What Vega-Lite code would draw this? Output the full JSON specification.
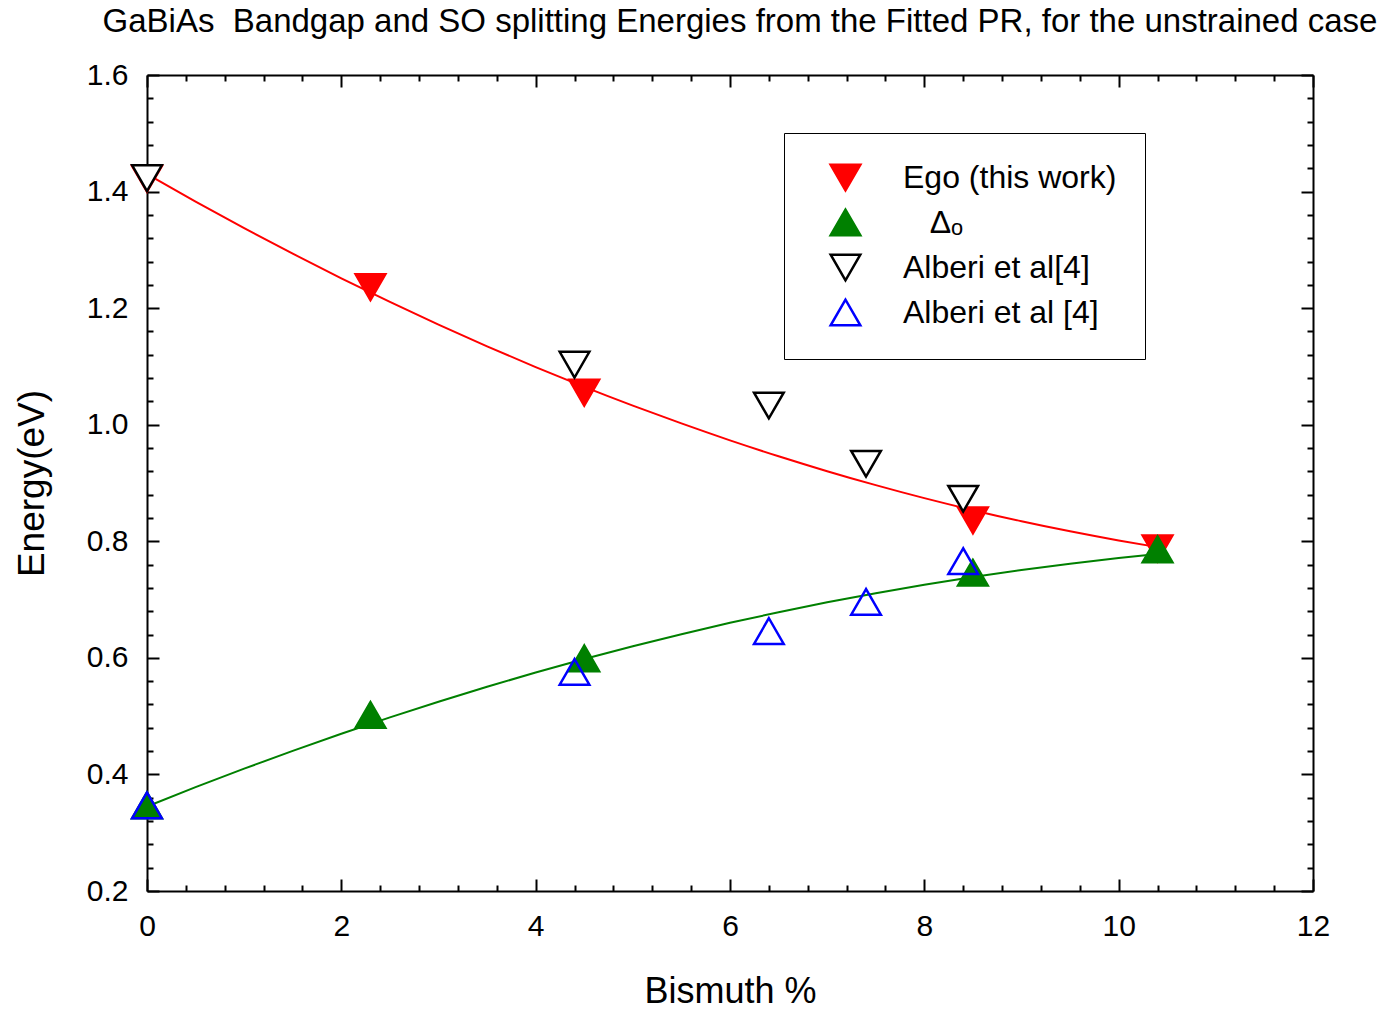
{
  "$schema": "https://vega.github.io/schema/vega-lite/v6.json",
  "width": 1166,
  "height": 816,
  "autosize": {"type": "none"},
  "padding": {"left": 147, "top": 75, "right": 70, "bottom": 119},
  "background": "white",
  "config": {
    "view": {"stroke": null},
    "font": "Liberation Sans",
    "axis": {"domainColor": "black", "domainWidth": 2, "tickColor": "black", "tickWidth": 2, "grid": false, "labelColor": "black", "titleColor": "black", "labelFontWeight": "normal", "titleFontWeight": "normal"}
  },
  "title": {
    "text": "GaBiAs\u00a0 Bandgap and SO splitting Energies from the Fitted PR, for the unstrained case",
    "fontSize": 33,
    "fontWeight": "normal",
    "font": "Liberation Sans",
    "color": "black",
    "anchor": "middle",
    "baseline": "alphabetic",
    "dx": 10,
    "offset": -5
  },
  "datasets": {
    "curves": [
      {"x": 0, "energy": 1.43, "curve": "gap"},
      {"x": 0.5, "energy": 1.3828, "curve": "gap"},
      {"x": 1, "energy": 1.3373, "curve": "gap"},
      {"x": 1.5, "energy": 1.2934, "curve": "gap"},
      {"x": 2, "energy": 1.2512, "curve": "gap"},
      {"x": 2.5, "energy": 1.2106, "curve": "gap"},
      {"x": 3, "energy": 1.1717, "curve": "gap"},
      {"x": 3.5, "energy": 1.1345, "curve": "gap"},
      {"x": 4, "energy": 1.0989, "curve": "gap"},
      {"x": 4.5, "energy": 1.065, "curve": "gap"},
      {"x": 5, "energy": 1.0328, "curve": "gap"},
      {"x": 5.5, "energy": 1.0022, "curve": "gap"},
      {"x": 6, "energy": 0.9732, "curve": "gap"},
      {"x": 6.5, "energy": 0.9459, "curve": "gap"},
      {"x": 7, "energy": 0.9203, "curve": "gap"},
      {"x": 7.5, "energy": 0.8963, "curve": "gap"},
      {"x": 8, "energy": 0.874, "curve": "gap"},
      {"x": 8.5, "energy": 0.8534, "curve": "gap"},
      {"x": 9, "energy": 0.8344, "curve": "gap"},
      {"x": 9.5, "energy": 0.8171, "curve": "gap"},
      {"x": 10, "energy": 0.8014, "curve": "gap"},
      {"x": 10.4, "energy": 0.79, "curve": "gap"},
      {"x": 0, "energy": 0.345, "curve": "so"},
      {"x": 0.5, "energy": 0.3781, "curve": "so"},
      {"x": 1, "energy": 0.4099, "curve": "so"},
      {"x": 1.5, "energy": 0.4405, "curve": "so"},
      {"x": 2, "energy": 0.4698, "curve": "so"},
      {"x": 2.5, "energy": 0.4979, "curve": "so"},
      {"x": 3, "energy": 0.5248, "curve": "so"},
      {"x": 3.5, "energy": 0.5504, "curve": "so"},
      {"x": 4, "energy": 0.5748, "curve": "so"},
      {"x": 4.5, "energy": 0.598, "curve": "so"},
      {"x": 5, "energy": 0.6199, "curve": "so"},
      {"x": 5.5, "energy": 0.6406, "curve": "so"},
      {"x": 6, "energy": 0.6601, "curve": "so"},
      {"x": 6.5, "energy": 0.6783, "curve": "so"},
      {"x": 7, "energy": 0.6953, "curve": "so"},
      {"x": 7.5, "energy": 0.711, "curve": "so"},
      {"x": 8, "energy": 0.7255, "curve": "so"},
      {"x": 8.5, "energy": 0.7388, "curve": "so"},
      {"x": 9, "energy": 0.7508, "curve": "so"},
      {"x": 9.5, "energy": 0.7616, "curve": "so"},
      {"x": 10, "energy": 0.7712, "curve": "so"},
      {"x": 10.4, "energy": 0.778, "curve": "so"}
    ],
    "points": [
      {"bi": 0, "energy": 1.422, "series": "Ego (this work)"},
      {"bi": 2.3, "energy": 1.236, "series": "Ego (this work)"},
      {"bi": 4.5, "energy": 1.055, "series": "Ego (this work)"},
      {"bi": 8.5, "energy": 0.836, "series": "Ego (this work)"},
      {"bi": 10.4, "energy": 0.788, "series": "Ego (this work)"},
      {"bi": 0, "energy": 0.347, "series": "Δo"},
      {"bi": 2.3, "energy": 0.502, "series": "Δo"},
      {"bi": 4.5, "energy": 0.599, "series": "Δo"},
      {"bi": 8.5, "energy": 0.746, "series": "Δo"},
      {"bi": 10.4, "energy": 0.786, "series": "Δo"},
      {"bi": 0, "energy": 1.423, "series": "Alberi et al[4]"},
      {"bi": 4.4, "energy": 1.103, "series": "Alberi et al[4]"},
      {"bi": 6.4, "energy": 1.033, "series": "Alberi et al[4]"},
      {"bi": 7.4, "energy": 0.933, "series": "Alberi et al[4]"},
      {"bi": 8.4, "energy": 0.873, "series": "Alberi et al[4]"},
      {"bi": 0, "energy": 0.347, "series": "Alberi et al [4]"},
      {"bi": 4.4, "energy": 0.576, "series": "Alberi et al [4]"},
      {"bi": 6.4, "energy": 0.646, "series": "Alberi et al [4]"},
      {"bi": 7.4, "energy": 0.696, "series": "Alberi et al [4]"},
      {"bi": 8.4, "energy": 0.766, "series": "Alberi et al [4]"}
    ]
  },
  "resolve": {"axis": {"x": "independent", "y": "independent"}},
  "layer": [
    {
      "data": {"name": "curves"},
      "mark": {"type": "line", "strokeWidth": 2, "interpolate": "monotone"},
      "encoding": {
        "x": {
          "field": "x", "type": "quantitative",
          "scale": {"domain": [0, 12], "nice": false, "zero": false},
          "axis": {
            "orient": "bottom",
            "title": "Bismuth %",
            "titleFontSize": 36,
            "titleFont": "Liberation Sans",
            "titlePadding": 27,
            "values": [0,0.4,0.8,1.2,1.6,2,2.4,2.8,3.2,3.6,4,4.4,4.8,5.2,5.6,6,6.4,6.8,7.2,7.6,8,8.4,8.8,9.2,9.6,10,10.4,10.8,11.2,11.6,12],
            "format": ".0f",
            "tickSize": {"condition": {"test": "abs(datum.value/2 - round(datum.value/2)) < 0.01", "value": -12}, "value": -6},
            "labelExpr": "abs(datum.value/2 - round(datum.value/2)) < 0.01 ? datum.label : ''",
            "labelFontSize": 30,
            "labelPadding": 32,
            "labelFlush": false,
            "labelOverlap": false
          }
        },
        "y": {
          "field": "energy", "type": "quantitative",
          "scale": {"domain": [0.2, 1.6], "nice": false, "zero": false},
          "axis": {
            "orient": "left",
            "title": "Energy(eV)",
            "titleFontSize": 37,
            "titleFont": "Liberation Sans",
            "titlePadding": 35,
            "values": [0.2,0.24,0.28,0.32,0.36,0.4,0.44,0.48,0.52,0.56,0.6,0.64,0.68,0.72,0.76,0.8,0.84,0.88,0.92,0.96,1.0,1.04,1.08,1.12,1.16,1.2,1.24,1.28,1.32,1.36,1.4,1.44,1.48,1.52,1.56,1.6],
            "format": ".1f",
            "tickSize": {"condition": {"test": "abs(datum.value*5 - round(datum.value*5)) < 0.01", "value": -12}, "value": -6},
            "labelExpr": "abs(datum.value*5 - round(datum.value*5)) < 0.01 ? datum.label : ''",
            "labelFontSize": 30,
            "labelPadding": 31,
            "labelFlush": false,
            "labelOverlap": false
          }
        },
        "color": {
          "field": "curve", "type": "nominal",
          "scale": {"domain": ["gap", "so"], "range": ["#ff0000", "#008000"]},
          "legend": null
        }
      }
    },
    {
      "data": {"name": "points"},
      "mark": {"type": "point", "strokeWidth": 2.5, "opacity": 1, "fillOpacity": 1, "strokeOpacity": 1},
      "encoding": {
        "x": {
          "field": "bi", "type": "quantitative",
          "axis": {
            "orient": "top",
            "title": null,
            "labels": false,
            "values": [0,0.4,0.8,1.2,1.6,2,2.4,2.8,3.2,3.6,4,4.4,4.8,5.2,5.6,6,6.4,6.8,7.2,7.6,8,8.4,8.8,9.2,9.6,10,10.4,10.8,11.2,11.6,12],
            "tickSize": {"condition": {"test": "abs(datum.value/2 - round(datum.value/2)) < 0.01", "value": -12}, "value": -6}
          }
        },
        "y": {
          "field": "energy", "type": "quantitative",
          "axis": {
            "orient": "right",
            "title": null,
            "labels": false,
            "values": [0.2,0.24,0.28,0.32,0.36,0.4,0.44,0.48,0.52,0.56,0.6,0.64,0.68,0.72,0.76,0.8,0.84,0.88,0.92,0.96,1.0,1.04,1.08,1.12,1.16,1.2,1.24,1.28,1.32,1.36,1.4,1.44,1.48,1.52,1.56,1.6],
            "tickSize": {"condition": {"test": "abs(datum.value*5 - round(datum.value*5)) < 0.01", "value": -12}, "value": -6}
          }
        },
        "shape": {
          "field": "series", "type": "nominal",
          "scale": {"domain": ["Ego (this work)", "Δo", "Alberi et al[4]", "Alberi et al [4]"], "range": ["triangle-down", "triangle-up", "triangle-down", "triangle-up"]},
          "legend": {
            "title": null,
            "orient": "none",
            "legendX": 637,
            "legendY": 58,
            "padding": 28,
            "strokeColor": "black",
            "fillColor": "white",
            "labelFontSize": 32,
            "labelFont": "Liberation Sans",
            "labelColor": "black",
            "labelLimit": 500,
            "labelOffset": 41,
            "symbolOffset": 17,
            "rowPadding": 8,
            "symbolStrokeWidth": 2.5,
            "labelExpr": "datum.label == 'Δo' ? '\u200b\u00a0\u00a0\u00a0Δₒ' : datum.label"
          }
        },
        "fill": {
          "field": "series", "type": "nominal",
          "scale": {"domain": ["Ego (this work)", "Δo", "Alberi et al[4]", "Alberi et al [4]"], "range": ["#ff0000", "#008000", "#ffffff", "transparent"]}
        },
        "stroke": {
          "field": "series", "type": "nominal",
          "scale": {"domain": ["Ego (this work)", "Δo", "Alberi et al[4]", "Alberi et al [4]"], "range": ["#ff0000", "#008000", "#000000", "#0000ff"]}
        },
        "size": {
          "field": "series", "type": "nominal",
          "scale": {"domain": ["Ego (this work)", "Δo", "Alberi et al[4]", "Alberi et al [4]"], "range": [880, 880, 680, 680]}
        }
      }
    }
  ]
}
